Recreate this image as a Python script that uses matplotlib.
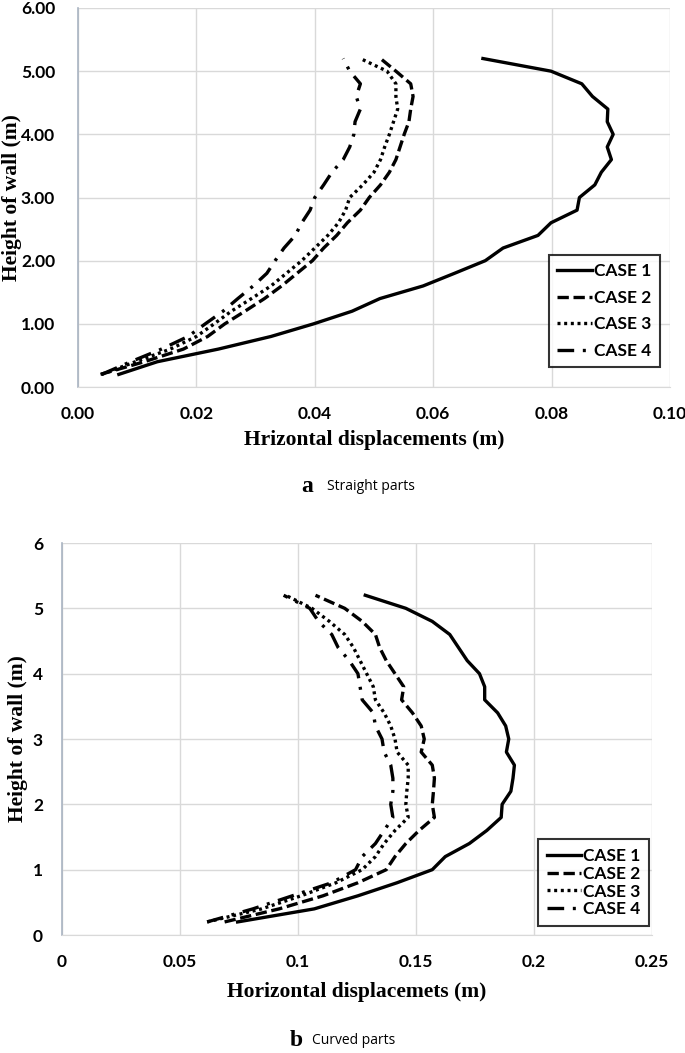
import matplotlib
matplotlib.use("Agg")
import matplotlib.pyplot as plt

# wall heights (m), same for every case
heights = [0.2, 0.4, 0.6, 0.8, 1.0, 1.2, 1.4, 1.6, 1.8, 2.0, 2.2, 2.4, 2.6,
           2.8, 3.0, 3.2, 3.4, 3.6, 3.8, 4.0, 4.2, 4.4, 4.6, 4.8, 5.0, 5.2]

# (a) straight parts
straight_case1 = [0.0069, 0.0134, 0.0237, 0.0326, 0.0398, 0.0463, 0.0510, 0.0583,
                  0.0636, 0.0688, 0.0718, 0.0777, 0.0799, 0.0843, 0.0847, 0.0873,
                  0.0884, 0.0901, 0.0894, 0.0904, 0.0894, 0.0895, 0.0869, 0.0851,
                  0.0799, 0.0684]
straight_case2 = [0.0038, 0.0112, 0.0178, 0.0219, 0.0248, 0.0282, 0.0315, 0.0344,
                  0.0370, 0.0396, 0.0415, 0.0437, 0.0455, 0.0477, 0.0492, 0.0511,
                  0.0526, 0.0537, 0.0544, 0.0551, 0.0559, 0.0562, 0.0566, 0.0562,
                  0.0537, 0.0511]
straight_case3 = [0.0040, 0.0097, 0.0156, 0.0200, 0.0230, 0.0259, 0.0293, 0.0326,
                  0.0352, 0.0378, 0.0400, 0.0422, 0.0440, 0.0452, 0.0459, 0.0481,
                  0.0500, 0.0511, 0.0518, 0.0526, 0.0533, 0.0540, 0.0537, 0.0537,
                  0.0522, 0.0477]
straight_case4 = [0.0040, 0.0089, 0.0141, 0.0186, 0.0215, 0.0245, 0.0270, 0.0296,
                  0.0319, 0.0333, 0.0348, 0.0367, 0.0378, 0.0392, 0.0400, 0.0415,
                  0.0429, 0.0448, 0.0459, 0.0466, 0.0468, 0.0477, 0.0470, 0.0477,
                  0.0459, 0.0448]

# (b) curved parts
curved_case1 = [0.0744, 0.1069, 0.1254, 0.1420, 0.1569, 0.1624, 0.1726, 0.1800,
                0.1861, 0.1865, 0.1902, 0.1911, 0.1917, 0.1883, 0.1893, 0.1880,
                0.1846, 0.1791, 0.1791, 0.1769, 0.1717, 0.1680, 0.1643, 0.1569,
                0.1457, 0.1285]
curved_case2 = [0.0689, 0.0920, 0.1106, 0.1254, 0.1374, 0.1411, 0.1457, 0.1513,
                0.1578, 0.1569, 0.1574, 0.1578, 0.1569, 0.1522, 0.1535, 0.1522,
                0.1485, 0.1439, 0.1448, 0.1411, 0.1374, 0.1346, 0.1328, 0.1272,
                0.1198, 0.1074]
curved_case3 = [0.0615, 0.0846, 0.1013, 0.1161, 0.1272, 0.1328, 0.1365, 0.1411,
                0.1467, 0.1457, 0.1461, 0.1467, 0.1467, 0.1420, 0.1411, 0.1393,
                0.1365, 0.1328, 0.1319, 0.1291, 0.1263, 0.1235, 0.1198, 0.1133,
                0.1059, 0.0948]
curved_case4 = [0.0615, 0.0809, 0.0976, 0.1143, 0.1244, 0.1272, 0.1328, 0.1365,
                0.1402, 0.1393, 0.1402, 0.1402, 0.1393, 0.1365, 0.1356, 0.1328,
                0.1319, 0.1272, 0.1263, 0.1254, 0.1217, 0.1170, 0.1143, 0.1087,
                0.1050, 0.0939]

case_labels = ["CASE 1", "CASE 2", "CASE 3", "CASE 4"]
styles = ["-", (0, (3.4, 1.4)), (0, (0.9, 1.1)), (0, (5, 2.6, 0.9, 2.6))]

tick_font = dict(family="Lato", weight="bold", size=12.5)
label_font = dict(family="Liberation Serif", weight="bold", size=15.5)


def draw_panel(ax, series, xlim, xticks, yticks, xfmt, yfmt, xlabel,
               xlabel_y, ylabel_x, legend_anchor, legend_spacing, ypad):
    for vals, ls, lab in zip(series, styles, case_labels):
        ax.plot(vals, heights, color="black", lw=2.4, linestyle=ls, label=lab,
                solid_joinstyle="round", dash_joinstyle="round")

    ax.set_xlim(*xlim)
    ax.set_ylim(0, 6)
    ax.set_xticks(xticks)
    ax.set_yticks(yticks)
    ax.set_xticklabels([xfmt.format(t) for t in xticks], **tick_font)
    ax.set_yticklabels([yfmt.format(t) for t in yticks], **tick_font)
    ax.tick_params(length=0)
    ax.tick_params(axis="y", pad=ypad)
    ax.tick_params(axis="x", pad=14)

    ax.grid(True, color="#d9d9d9", lw=1.0)
    ax.set_axisbelow(True)
    for side in ["top", "right"]:
        ax.spines[side].set_visible(False)
    ax.spines["bottom"].set_color("#d9d9d9")
    ax.spines["left"].set_color("#a9b4c2")
    ax.spines["left"].set_linewidth(1.2)

    ax.set_xlabel(xlabel, **label_font)
    ax.set_ylabel("Height of wall (m)", **label_font)
    ax.xaxis.set_label_coords(0.5, xlabel_y)
    ax.yaxis.set_label_coords(ylabel_x, 0.5)

    leg = ax.legend(loc="lower right", bbox_to_anchor=legend_anchor,
                    prop=dict(family="Lato", weight="bold", size=12.5),
                    frameon=True, fancybox=False, edgecolor="black",
                    handlelength=2.0, handletextpad=0.1,
                    labelspacing=legend_spacing, borderpad=0.5,
                    borderaxespad=0)
    leg.get_frame().set_linewidth(1.5)


fig = plt.figure(figsize=(6.85, 10.53), dpi=100)

ax1 = fig.add_axes([78 / 685, 1 - 387 / 1053, 592 / 685, 379 / 1053])
draw_panel(ax1, [straight_case1, straight_case2, straight_case3, straight_case4],
           (0, 0.10), [0, 0.02, 0.04, 0.06, 0.08, 0.10], [0, 1, 2, 3, 4, 5, 6],
           "{:.2f}", "{:.2f}", "Hrizontal displacements (m)",
           -0.113, -0.095, (0.983, 0.052), 0.6, 16.5)

ax2 = fig.add_axes([62 / 685, 1 - 935 / 1053, 590 / 685, 392 / 1053])
draw_panel(ax2, [curved_case1, curved_case2, curved_case3, curved_case4],
           (0, 0.25), [0, 0.05, 0.1, 0.15, 0.2, 0.25], [0, 1, 2, 3, 4, 5, 6],
           "{:g}", "{:g}", "Horizontal displacemets (m)",
           -0.12, -0.058, (0.995, 0.023), 0.1, 13.7)

# captions under each panel
fig.text(313 / 685, 1 - 487 / 1053, "a", family="Liberation Serif",
         weight="bold", size=17, ha="right", va="center")
fig.text(327 / 685, 1 - 487 / 1053, "Straight parts", family="Open Sans",
         size=10, ha="left", va="center")
fig.text(303 / 685, 1 - 1040 / 1053, "b", family="Liberation Serif",
         weight="bold", size=17, ha="right", va="center")
fig.text(312 / 685, 1 - 1040 / 1053, "Curved parts", family="Open Sans",
         size=10, ha="left", va="center")

fig.savefig("out.png", dpi=100)
